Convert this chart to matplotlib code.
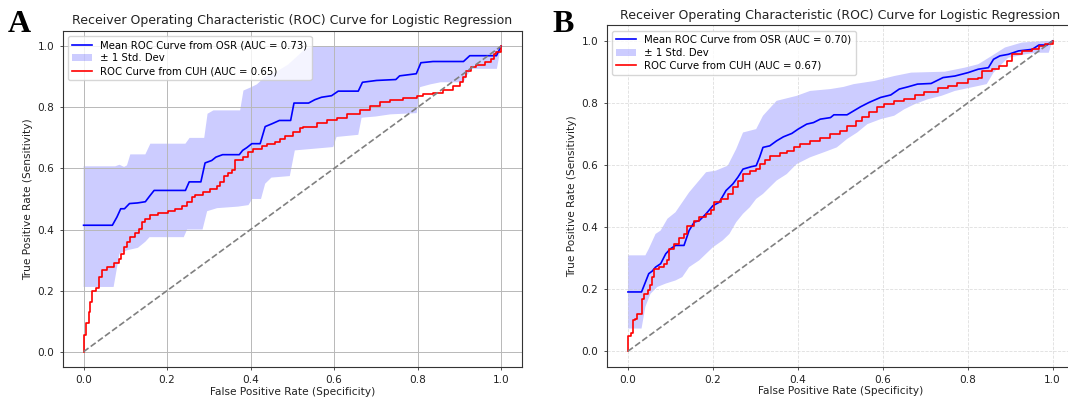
import numpy as np
import matplotlib
matplotlib.use("Agg")
import matplotlib.pyplot as plt

plt.rcParams['font.family'] = ['DejaVu Sans']

# ---- panel A: OSR mean curve, +-1 std band, CUH curve ----
a_mean_fpr = [0.0, 0.069, 0.08, 0.089, 0.098, 0.11, 0.129, 0.148, 0.158, 0.169, 0.244, 0.253,
              0.281, 0.291, 0.307, 0.317, 0.333, 0.373, 0.381, 0.391, 0.403, 0.423, 0.435,
              0.451, 0.469, 0.496, 0.504, 0.539, 0.554, 0.57, 0.594, 0.61, 0.658, 0.668,
              0.702, 0.748, 0.757, 0.797, 0.808, 0.837, 0.91, 0.925, 0.989, 1.0]
a_mean_tpr = [0.414, 0.414, 0.441, 0.468, 0.468, 0.485, 0.487, 0.491, 0.509, 0.528, 0.528, 0.556,
              0.556, 0.618, 0.626, 0.637, 0.645, 0.645, 0.659, 0.668, 0.681, 0.681, 0.737,
              0.746, 0.757, 0.757, 0.814, 0.814, 0.825, 0.833, 0.838, 0.853, 0.853, 0.882,
              0.888, 0.891, 0.903, 0.91, 0.946, 0.95, 0.95, 0.969, 0.969, 1.0]

a_upper_fpr = [0.0, 0.076, 0.086, 0.097, 0.104, 0.112, 0.148, 0.16, 0.244, 0.254, 0.289, 0.297,
               0.311, 0.375, 0.383, 0.40, 0.415, 0.435, 0.46, 0.49, 0.51, 0.53, 0.55, 1.0]
a_upper_tpr = [0.607, 0.607, 0.612, 0.605, 0.61, 0.646, 0.646, 0.681, 0.681, 0.70, 0.70, 0.779,
               0.79, 0.79, 0.855, 0.865, 0.875, 0.90, 0.915, 0.94, 0.965, 0.99, 1.0, 1.0]
a_lower_fpr = [0.0, 0.072, 0.086, 0.104, 0.13, 0.148, 0.158, 0.24, 0.248, 0.285, 0.296, 0.32,
               0.37, 0.395, 0.404, 0.425, 0.435, 0.45, 0.494, 0.506, 0.598, 0.606, 0.658, 0.666,
               0.70, 0.735, 0.798, 0.806, 0.83, 0.855, 0.91, 0.918, 0.93, 0.99, 1.0]
a_lower_tpr = [0.212, 0.212, 0.321, 0.332, 0.34, 0.36, 0.375, 0.375, 0.40, 0.40, 0.46, 0.47,
               0.475, 0.48, 0.50, 0.50, 0.55, 0.57, 0.575, 0.659, 0.67, 0.703, 0.71, 0.766,
               0.77, 0.777, 0.781, 0.866, 0.875, 0.882, 0.882, 0.904, 0.926, 0.926, 1.0]

a_cuh_fpr = [0.0, 0.0, 0.006, 0.012, 0.016, 0.02, 0.03, 0.036, 0.044, 0.056, 0.072, 0.084, 0.089,
             0.096, 0.104, 0.112, 0.124, 0.132, 0.14, 0.148, 0.159, 0.179, 0.203, 0.219, 0.235,
             0.247, 0.259, 0.267, 0.287, 0.303, 0.319, 0.327, 0.337, 0.347, 0.355, 0.363, 0.371,
             0.383, 0.395, 0.407, 0.427, 0.439, 0.459, 0.47, 0.482, 0.502, 0.518, 0.526, 0.55,
             0.558, 0.582, 0.606, 0.63, 0.662, 0.686, 0.71, 0.734, 0.766, 0.798, 0.813, 0.837,
             0.861, 0.885, 0.901, 0.909, 0.917, 0.929, 0.941, 0.961, 0.977, 0.982, 0.989, 1.0]
a_cuh_tpr = [0.0, 0.054, 0.093, 0.131, 0.163, 0.2, 0.21, 0.245, 0.267, 0.278, 0.291, 0.305, 0.321,
             0.343, 0.359, 0.376, 0.389, 0.403, 0.425, 0.436, 0.447, 0.454, 0.461, 0.468, 0.477,
             0.49, 0.507, 0.514, 0.523, 0.534, 0.542, 0.556, 0.574, 0.585, 0.594, 0.626, 0.628,
             0.637, 0.654, 0.664, 0.672, 0.681, 0.688, 0.695, 0.705, 0.719, 0.733, 0.735, 0.735,
             0.748, 0.757, 0.766, 0.777, 0.79, 0.804, 0.817, 0.825, 0.83, 0.836, 0.842, 0.846,
             0.857, 0.869, 0.882, 0.899, 0.92, 0.931, 0.94, 0.948, 0.959, 0.975, 0.98, 1.0]

# ---- panel B ----
b_mean_fpr = [0.0, 0.032, 0.049, 0.057, 0.065, 0.077, 0.089, 0.1, 0.112, 0.132, 0.144, 0.156,
              0.168, 0.184, 0.2, 0.215, 0.231, 0.247, 0.259, 0.271, 0.291, 0.302, 0.31, 0.318,
              0.334, 0.35, 0.366, 0.386, 0.401, 0.421, 0.437, 0.453, 0.477, 0.485, 0.516, 0.532,
              0.548, 0.568, 0.595, 0.619, 0.639, 0.659, 0.682, 0.714, 0.742, 0.77, 0.801, 0.825,
              0.849, 0.861, 0.876, 0.896, 0.92, 0.952, 0.968, 0.987, 1.0]
b_mean_tpr = [0.191, 0.191, 0.25, 0.258, 0.271, 0.282, 0.314, 0.33, 0.341, 0.341, 0.389, 0.416,
              0.421, 0.443, 0.469, 0.48, 0.518, 0.539, 0.561, 0.587, 0.595, 0.598, 0.625, 0.657,
              0.662, 0.678, 0.691, 0.702, 0.716, 0.732, 0.737, 0.748, 0.753, 0.762, 0.762, 0.775,
              0.788, 0.802, 0.818, 0.826, 0.845, 0.852, 0.861, 0.863, 0.882, 0.887, 0.898, 0.909,
              0.914, 0.941, 0.952, 0.957, 0.968, 0.973, 0.987, 0.987, 1.0]

b_upper_fpr = [0.0, 0.041, 0.049, 0.065, 0.077, 0.093, 0.112, 0.144, 0.184, 0.207, 0.235, 0.255,
               0.271, 0.302, 0.318, 0.35, 0.397, 0.429, 0.477, 0.508, 0.532, 0.58, 0.627, 0.667,
               0.746, 0.793, 0.825, 0.857, 0.888, 0.928, 0.983, 1.0]
b_upper_tpr = [0.309, 0.309, 0.33, 0.378, 0.389, 0.427, 0.448, 0.512, 0.577, 0.582, 0.598, 0.652,
               0.705, 0.716, 0.759, 0.807, 0.823, 0.839, 0.845, 0.852, 0.861, 0.871, 0.887, 0.898,
               0.901, 0.914, 0.925, 0.952, 0.979, 0.995, 1.0, 1.0]
b_lower_fpr = [0.0, 0.032, 0.041, 0.053, 0.069, 0.089, 0.112, 0.128, 0.144, 0.168, 0.184, 0.2,
               0.223, 0.239, 0.255, 0.271, 0.287, 0.302, 0.318, 0.35, 0.374, 0.397, 0.429, 0.461,
               0.492, 0.516, 0.54, 0.564, 0.595, 0.627, 0.651, 0.675, 0.706, 0.738, 0.77, 0.801,
               0.825, 0.845, 0.861, 0.88, 0.896, 0.936, 0.96, 0.991, 1.0]
b_lower_tpr = [0.073, 0.073, 0.143, 0.185, 0.207, 0.218, 0.228, 0.239, 0.271, 0.293, 0.314, 0.335,
               0.357, 0.378, 0.416, 0.443, 0.464, 0.491, 0.507, 0.55, 0.571, 0.603, 0.625, 0.641,
               0.657, 0.684, 0.705, 0.732, 0.748, 0.759, 0.78, 0.796, 0.812, 0.823, 0.839, 0.848,
               0.855, 0.861, 0.898, 0.925, 0.946, 0.957, 0.962, 0.962, 1.0]

b_cuh_fpr = [0.0, 0.0, 0.008, 0.011, 0.017, 0.021, 0.029, 0.032, 0.037, 0.048, 0.051, 0.057, 0.061,
             0.073, 0.085, 0.093, 0.097, 0.108, 0.12, 0.132, 0.14, 0.156, 0.168, 0.184, 0.196,
             0.203, 0.219, 0.235, 0.247, 0.259, 0.271, 0.287, 0.302, 0.31, 0.322, 0.334, 0.358,
             0.374, 0.39, 0.405, 0.429, 0.453, 0.477, 0.5, 0.516, 0.536, 0.552, 0.568, 0.587,
             0.603, 0.627, 0.651, 0.675, 0.698, 0.73, 0.754, 0.774, 0.801, 0.825, 0.833, 0.857,
             0.873, 0.892, 0.904, 0.928, 0.952, 0.968, 0.983, 1.0]
b_cuh_tpr = [0.0, 0.05, 0.06, 0.1, 0.105, 0.121, 0.121, 0.169, 0.185, 0.196, 0.212, 0.239, 0.266,
             0.271, 0.282, 0.293, 0.33, 0.346, 0.365, 0.378, 0.405, 0.421, 0.432, 0.443, 0.456,
             0.48, 0.491, 0.507, 0.528, 0.55, 0.571, 0.582, 0.587, 0.603, 0.616, 0.63, 0.638,
             0.646, 0.657, 0.668, 0.676, 0.687, 0.7, 0.711, 0.727, 0.741, 0.754, 0.77, 0.786,
             0.796, 0.805, 0.812, 0.826, 0.837, 0.848, 0.855, 0.866, 0.877, 0.88, 0.904, 0.909,
             0.92, 0.936, 0.957, 0.968, 0.973, 0.984, 0.989, 1.0]

panels = [
    ("A", 0.73, 0.65, a_mean_fpr, a_mean_tpr, a_upper_fpr, a_upper_tpr,
     a_lower_fpr, a_lower_tpr, a_cuh_fpr, a_cuh_tpr),
    ("B", 0.70, 0.67, b_mean_fpr, b_mean_tpr, b_upper_fpr, b_upper_tpr,
     b_lower_fpr, b_lower_tpr, b_cuh_fpr, b_cuh_tpr),
]

fig = plt.figure(figsize=(10.68, 4.01), dpi=100)
rects = [[0.0587, 0.0848, 0.4300, 0.8380], [0.5681, 0.0855, 0.4373, 0.8510]]
label_xy = [(8 / 1068, 1 - 32 / 401), (552 / 1068, 1 - 32 / 401)]

fs = 7.6
for i, (tag, auc_osr, auc_cuh, mf, mt, uf, ut, lf, lt, cf, ct) in enumerate(panels):
    ax = fig.add_axes(rects[i])
    # std band as a polygon: upper edge forward, lower edge back
    band_x = np.concatenate([uf, lf[::-1]])
    band_y = np.concatenate([ut, lt[::-1]])
    ax.fill(band_x, band_y, color='blue', alpha=0.2, lw=0, label='± 1 Std. Dev')
    ax.plot(mf, mt, color='blue', lw=1.2, label=f'Mean ROC Curve from OSR (AUC = {auc_osr:.2f})')
    ax.plot(cf, ct, color='red', lw=1.2, drawstyle='steps-post',
            label=f'ROC Curve from CUH (AUC = {auc_cuh:.2f})')
    ax.plot([0, 1], [0, 1], color='gray', ls='--', lw=1.2)

    ax.set_xlim(-0.05, 1.05)
    ax.set_ylim(-0.05, 1.05)
    ax.set_xticks([0, 0.2, 0.4, 0.6, 0.8, 1.0])
    ax.set_yticks([0, 0.2, 0.4, 0.6, 0.8, 1.0])
    ax.tick_params(labelsize=fs, length=2.5, width=0.6, colors='#333333', labelcolor='#222222')
    for s in ax.spines.values():
        s.set_linewidth(0.8)
        s.set_color('#333333')
    if tag == "A":
        ax.grid(True, color='#b8b8b8', lw=0.7)
    else:
        ax.grid(True, color='#c8c8c8', lw=0.6, ls='--', alpha=0.6)

    ax.set_title('Receiver Operating Characteristic (ROC) Curve for Logistic Regression',
                 fontsize=9.0, pad=5, color='#222222')
    ax.set_xlabel('False Positive Rate (Specificity)', fontsize=fs, labelpad=1, color='#222222')
    ax.set_ylabel('True Positive Rate (Sensitivity)', fontsize=fs, labelpad=3, color='#222222')

    h, l = ax.get_legend_handles_labels()
    order = [1, 0, 2]
    ax.legend([h[k] for k in order], [l[k] for k in order], loc='upper left', fontsize=7.3,
              handlelength=2.0, borderpad=0.4, labelspacing=0.3, framealpha=0.8)

    fig.text(label_xy[i][0], label_xy[i][1], tag, fontsize=23, fontweight='bold',
             family='Liberation Serif', va='baseline', ha='left')

fig.savefig('out.png', dpi=100)
